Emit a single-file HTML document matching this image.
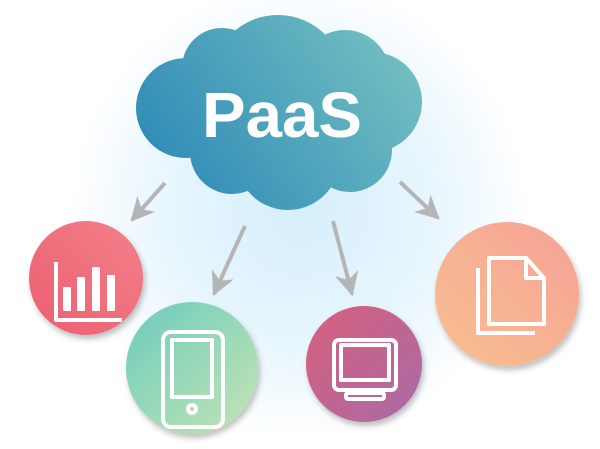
<!DOCTYPE html>
<html><head><style>
html,body{margin:0;padding:0;background:#fff;}
svg{display:block;}
</style></head><body>
<svg width="600" height="449" viewBox="0 0 600 449" xmlns="http://www.w3.org/2000/svg">
<defs>
<radialGradient id="bg" cx="300" cy="210" r="230" gradientUnits="userSpaceOnUse">
<stop offset="0" stop-color="#d6effc"/><stop offset="0.6" stop-color="#e8f6fd"/><stop offset="1" stop-color="#ffffff"/>
</radialGradient>
<linearGradient id="cl" x1="150" y1="200" x2="410" y2="20" gradientUnits="userSpaceOnUse">
<stop offset="0" stop-color="#2a88b6"/><stop offset="1" stop-color="#78c2c2"/>
</linearGradient>
<clipPath id="cc">
<circle cx="278" cy="82" r="67"/>
<circle cx="222" cy="68" r="40"/>
<circle cx="186" cy="108" r="50"/>
<circle cx="372" cy="102" r="50"/>
<circle cx="345" cy="75" r="45"/>
<circle cx="288" cy="158" r="52"/>
<circle cx="232" cy="152" r="42"/>
<circle cx="350" cy="150" r="42"/>
<rect x="200" y="80" width="170" height="80"/>
</clipPath>
<linearGradient id="gr" x1="0" y1="1" x2="1" y2="0"><stop offset="0" stop-color="#ec5f70"/><stop offset="1" stop-color="#f2808a"/></linearGradient>
<linearGradient id="gg" x1="0" y1="0" x2="1" y2="1"><stop offset="0" stop-color="#6ccbbd"/><stop offset="1" stop-color="#c6e5b3"/></linearGradient>
<linearGradient id="gp" x1="0" y1="0" x2="1" y2="1"><stop offset="0" stop-color="#d9607a"/><stop offset="1" stop-color="#a96aaa"/></linearGradient>
<linearGradient id="go" x1="0" y1="1" x2="1" y2="0"><stop offset="0" stop-color="#f9c090"/><stop offset="1" stop-color="#f4a196"/></linearGradient>
<filter id="sh" x="-20%" y="-20%" width="150%" height="150%"><feDropShadow dx="2" dy="4" stdDeviation="3" flood-color="#000" flood-opacity="0.25"/></filter>
<marker id="ah" viewBox="0 0 10 10" refX="9" refY="5" markerWidth="6" markerHeight="6" orient="auto"><path d="M0,0 L10,5 L0,10 L3,5 Z" fill="#b5b5b5"/></marker>
</defs>
<rect width="600" height="449" fill="url(#bg)"/>
<rect x="0" y="0" width="600" height="449" fill="url(#cl)" clip-path="url(#cc)"/>
<text x="282" y="137" text-anchor="middle" font-family="Liberation Sans, sans-serif" font-weight="bold" font-size="64" fill="#fff" textLength="160" lengthAdjust="spacingAndGlyphs">PaaS</text>
<g stroke="#b5b5b5" stroke-width="4" fill="none" marker-end="url(#ah)">
<line x1="165" y1="183" x2="132" y2="220"/>
<line x1="245" y1="226" x2="214" y2="294"/>
<line x1="333" y1="221" x2="352" y2="294"/>
<line x1="400" y1="182" x2="438" y2="218"/>
</g>
<circle cx="86" cy="278" r="57" fill="url(#gr)" filter="url(#sh)"/>
<circle cx="192" cy="368" r="66" fill="url(#gg)" filter="url(#sh)"/>
<circle cx="364" cy="364" r="58" fill="url(#gp)" filter="url(#sh)"/>
<circle cx="507" cy="294" r="72" fill="url(#go)" filter="url(#sh)"/>
<g fill="none" stroke="#fff" stroke-width="4" stroke-linejoin="round">
<polyline points="56,262 56,320 122,320"/>
<rect x="64" y="288" width="6" height="22" fill="#fff" stroke-width="2"/>
<rect x="78" y="278" width="6" height="32" fill="#fff" stroke-width="2"/>
<rect x="93" y="268" width="6" height="42" fill="#fff" stroke-width="2"/>
<rect x="108" y="276" width="6" height="34" fill="#fff" stroke-width="2"/>
<rect x="163" y="332" width="60" height="95" rx="8"/>
<rect x="172" y="340" width="40" height="57"/>
<circle cx="192" cy="409" r="4"/>
<rect x="334" y="340" width="62" height="50" rx="5"/>
<rect x="341" y="345" width="48" height="35"/>
<rect x="346" y="393" width="38" height="6" rx="2"/>
<path d="M489,258 L526,258 L544,278 L544,324 L489,324 Z"/>
<path d="M526,258 L526,278 L544,278"/>
<path d="M478,268 L478,333 L535,333"/>
</g>
</svg>
</body></html>
